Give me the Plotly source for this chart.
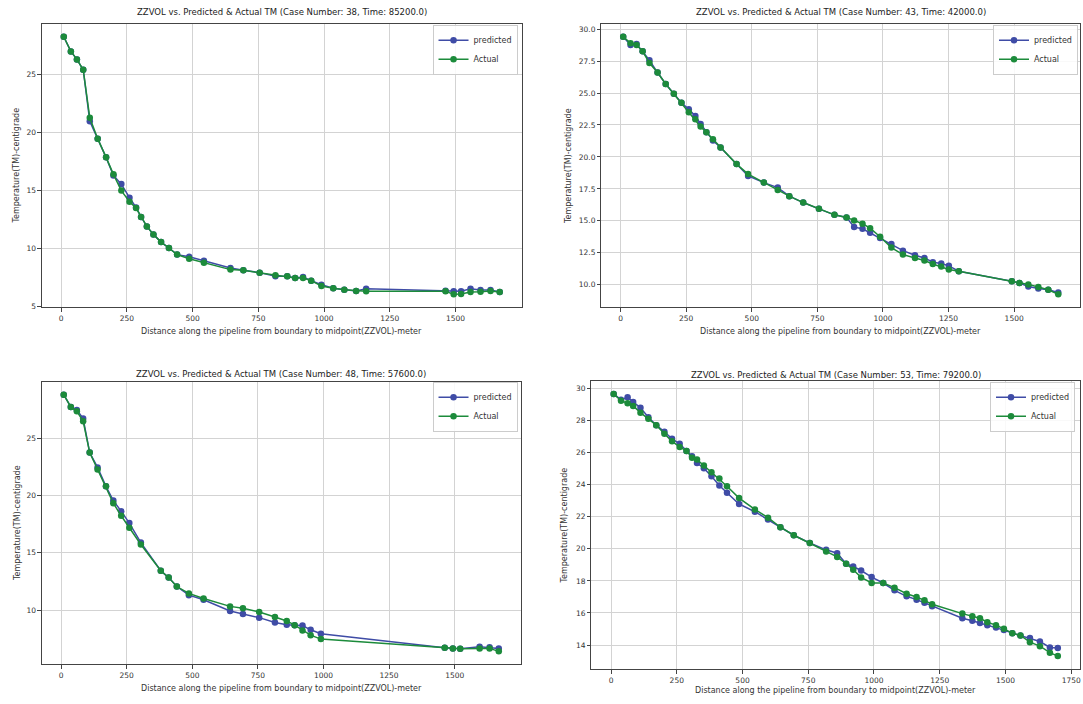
import plotly.graph_objects as go

W, H = 1083, 704

# ---------------- data ----------------
case38_x = [10, 37, 60, 84, 109, 139, 171, 199, 229, 260, 285, 304, 326, 351, 380, 410, 441, 487, 543, 644,
            693, 755, 815, 860, 890, 920, 951, 990, 1035, 1077, 1122, 1160, 1462, 1493, 1521, 1557, 1595, 1633, 1668]
case38_pred = [28.24, 26.98, 26.29, 25.40, 20.96, 19.47, 17.86, 16.30, 15.56, 14.39, 13.55, 12.73, 11.92, 11.23,
               10.57, 10.06, 9.49, 9.31, 8.97, 8.34, 8.14, 7.94, 7.62, 7.62, 7.48, 7.56, 7.25, 6.90, 6.59, 6.47,
               6.36, 6.56, 6.39, 6.33, 6.33, 6.56, 6.45, 6.45, 6.27]
case38_act = [28.24, 26.98, 26.29, 25.40, 21.27, 19.47, 17.86, 16.40, 15.00, 14.05, 13.50, 12.73, 11.92, 11.23,
              10.57, 10.06, 9.49, 9.14, 8.80, 8.20, 8.14, 7.94, 7.71, 7.62, 7.48, 7.48, 7.25, 6.79, 6.59, 6.47,
              6.36, 6.33, 6.33, 6.07, 6.10, 6.27, 6.30, 6.36, 6.27]

case43_x = [10, 38, 61, 84, 110, 141, 172, 203, 232, 260, 285, 305, 327, 352, 381, 442, 486, 546, 599, 643, 696,
            756, 815, 861, 890, 922, 951, 989, 1032, 1076, 1122, 1158, 1190, 1222, 1251, 1289, 1491, 1520, 1554,
            1592, 1630, 1668]
case43_pred = [29.40, 28.75, 28.83, 28.26, 27.56, 26.60, 25.70, 24.94, 24.24, 23.72, 23.20, 22.58, 21.93, 21.28,
               20.74, 19.44, 18.51, 17.99, 17.60, 16.93, 16.43, 15.94, 15.47, 15.27, 14.51, 14.38, 14.07, 13.66,
               13.19, 12.67, 12.31, 12.10, 11.76, 11.66, 11.48, 11.06, 10.28, 10.13, 9.87, 9.71, 9.61, 9.40]
case43_act = [29.40, 28.90, 28.75, 28.26, 27.35, 26.60, 25.70, 24.94, 24.24, 23.49, 22.94, 22.37, 21.93, 21.39,
              20.74, 19.44, 18.66, 17.99, 17.42, 16.93, 16.43, 15.94, 15.47, 15.27, 15.03, 14.77, 14.43, 13.76,
              12.91, 12.36, 12.10, 11.90, 11.63, 11.43, 11.20, 11.06, 10.28, 10.13, 10.03, 9.82, 9.61, 9.25]

case48_x = [10, 37, 60, 84, 109, 139, 171, 199, 229, 260, 304, 380, 410, 441, 487, 543, 644, 693, 755, 815, 860,
            890, 920, 951, 990, 1462, 1493, 1521, 1595, 1633, 1668]
case48_pred = [28.78, 27.71, 27.45, 26.70, 23.73, 22.44, 20.79, 19.55, 18.63, 17.59, 15.89, 13.44, 12.84, 12.06,
               11.31, 10.91, 9.93, 9.67, 9.35, 8.92, 8.72, 8.69, 8.66, 8.29, 7.94, 6.73, 6.67, 6.64, 6.82, 6.76, 6.67]
case48_act = [28.78, 27.71, 27.33, 26.47, 23.73, 22.26, 20.79, 19.32, 18.23, 17.19, 15.72, 13.44, 12.84, 12.06,
              11.46, 11.02, 10.33, 10.16, 9.84, 9.41, 9.06, 8.69, 8.23, 7.82, 7.48, 6.73, 6.67, 6.64, 6.67, 6.67, 6.41]

case53_x = [10, 38, 63, 84, 112, 142, 172, 203, 232, 261, 287, 308, 327, 353, 382, 412, 441, 487, 547, 597, 644,
            695, 756, 818, 860, 894, 921, 951, 991, 1035, 1078, 1124, 1162, 1192, 1221, 1336, 1374, 1403, 1431,
            1464, 1494, 1526, 1557, 1593, 1631, 1669, 1699]
case53_pred = [29.67, 29.30, 29.46, 29.17, 28.80, 28.22, 27.72, 27.31, 26.87, 26.56, 26.11, 25.78, 25.36, 25.03,
               24.53, 23.95, 23.50, 22.80, 22.32, 21.84, 21.35, 20.85, 20.37, 19.94, 19.73, 19.07, 18.90, 18.65,
               18.24, 17.87, 17.41, 17.04, 16.83, 16.63, 16.42, 15.67, 15.51, 15.38, 15.24, 15.09, 14.93, 14.74,
               14.60, 14.43, 14.22, 13.85, 13.81]
case53_act = [29.67, 29.25, 29.09, 28.92, 28.50, 28.12, 27.72, 27.18, 26.71, 26.36, 26.11, 25.69, 25.57, 25.20,
              24.78, 24.39, 23.91, 23.17, 22.46, 21.95, 21.35, 20.85, 20.37, 19.83, 19.50, 19.07, 18.70, 18.22,
              17.87, 17.87, 17.58, 17.20, 17.00, 16.79, 16.54, 15.96, 15.80, 15.67, 15.42, 15.24, 15.01, 14.74,
              14.60, 14.18, 13.93, 13.52, 13.31]

case_numbers = [38, 43, 48, 53]
case_times = ["85200.0", "42000.0", "57600.0", "79200.0"]
series_names = ["predicted", "Actual"]
x_ticks = [[0, 250, 500, 750, 1000, 1250, 1500],
           [0, 250, 500, 750, 1000, 1250, 1500],
           [0, 250, 500, 750, 1000, 1250, 1500],
           [0, 250, 500, 750, 1000, 1250, 1500, 1750]]
y_ticks = [[5, 10, 15, 20, 25],
           [10.0, 12.5, 15.0, 17.5, 20.0, 22.5, 25.0, 27.5, 30.0],
           [10, 15, 20, 25],
           [14, 16, 18, 20, 22, 24, 26, 28, 30]]

cases = [(case38_x, case38_pred, case38_act),
         (case43_x, case43_pred, case43_act),
         (case48_x, case48_pred, case48_act),
         (case53_x, case53_pred, case53_act)]

# ---------------- layout geometry (pixels) ----------------
boxes = [(42, 522, 24, 309), (602, 1081, 24, 309), (42, 521, 384, 668), (592, 1081, 383, 673)]
title_y = [12, 12, 376, 377]
xlabel_y = [333, 333, 692, 694]
ylabel_x = [17, 569, 17, 565]
legend_pos = [(518, 25), (1079, 25), (518, 384), (1076, 384)]

BLUE = "#3f4ca6"
GREEN = "#1c8b3b"
FONT = "DejaVu Sans"
TXT = "#333333"


def margin_range(vals):
    lo, hi = min(vals), max(vals)
    span = hi - lo
    return [lo - 0.05 * span, hi + 0.05 * span]


fig = go.Figure()
annotations = []
layout = dict(width=W, height=H, margin=dict(l=0, r=0, t=0, b=0),
              paper_bgcolor="white", plot_bgcolor="white", showlegend=True)

for i, (xs, pred, act) in enumerate(cases):
    n = i + 1
    sfx = "" if n == 1 else str(n)
    leg = "legend" if n == 1 else f"legend{n}"
    fig.add_trace(go.Scatter(x=xs, y=pred, mode="lines+markers", name=series_names[0],
                             line=dict(color=BLUE, width=1.5), marker=dict(color=BLUE, size=6.5),
                             xaxis=f"x{sfx}", yaxis=f"y{sfx}", legend=leg))
    fig.add_trace(go.Scatter(x=xs, y=act, mode="lines+markers", name=series_names[1],
                             line=dict(color=GREEN, width=1.5), marker=dict(color=GREEN, size=6.5),
                             xaxis=f"x{sfx}", yaxis=f"y{sfx}", legend=leg))
    l, r, t, b = boxes[i]
    xr = margin_range(xs)
    yr = margin_range(pred + act)
    common = dict(showgrid=True, gridcolor="#d3d3d3", gridwidth=1, zeroline=False,
                  showline=True, linecolor="#444444", linewidth=1, mirror=True,
                  ticks="outside", ticklen=3.5, tickcolor="#444444", tickwidth=1,
                  tickfont=dict(family=FONT, size=7.5, color=TXT))
    xt = x_ticks[i]
    layout[f"xaxis{sfx}"] = dict(domain=[l / W, r / W], range=xr, anchor=f"y{sfx}",
                                 tickmode="array", tickvals=xt, ticktext=[str(v) for v in xt], **common)
    yt = y_ticks[i]
    ytxt = [f"{v:.1f}" for v in yt] if n == 2 else [str(v) for v in yt]
    layout[f"yaxis{sfx}"] = dict(domain=[1 - b / H, 1 - t / H], range=yr, anchor=f"x{sfx}",
                                 tickmode="array", tickvals=yt, ticktext=ytxt, **common)
    lx, ly = legend_pos[i]
    layout[leg] = dict(x=lx / W, y=1 - ly / H, xanchor="right", yanchor="top",
                       bgcolor="rgba(255,255,255,0.85)", bordercolor="#cccccc", borderwidth=1,
                       font=dict(family=FONT, size=8, color=TXT), itemwidth=30,
                       tracegroupgap=0, traceorder="normal")
    cx = (l + r) / 2
    annotations.append(dict(text=f"ZZVOL vs. Predicted & Actual TM (Case Number: {case_numbers[i]}, Time: {case_times[i]})",
                            x=cx / W, y=1 - title_y[i] / H, xref="paper", yref="paper",
                            xanchor="center", yanchor="middle", showarrow=False,
                            font=dict(family=FONT, size=8.5, color="#222222")))
    annotations.append(dict(text="Distance along the pipeline from boundary to midpoint(ZZVOL)-meter",
                            x=cx / W, y=1 - xlabel_y[i] / H, xref="paper", yref="paper",
                            xanchor="center", yanchor="middle", showarrow=False,
                            font=dict(family=FONT, size=8, color=TXT)))
    annotations.append(dict(text="Temperature(TM)-centigrade",
                            x=ylabel_x[i] / W, y=1 - ((t + b) / 2) / H, xref="paper", yref="paper",
                            xanchor="center", yanchor="middle", showarrow=False, textangle=-90,
                            font=dict(family=FONT, size=8, color=TXT)))

layout["annotations"] = annotations
fig.update_layout(**layout)
fig.write_html("out.html", config={"displayModeBar": False},
               post_script="document.body.style.margin='0';document.body.style.overflow='hidden';")
